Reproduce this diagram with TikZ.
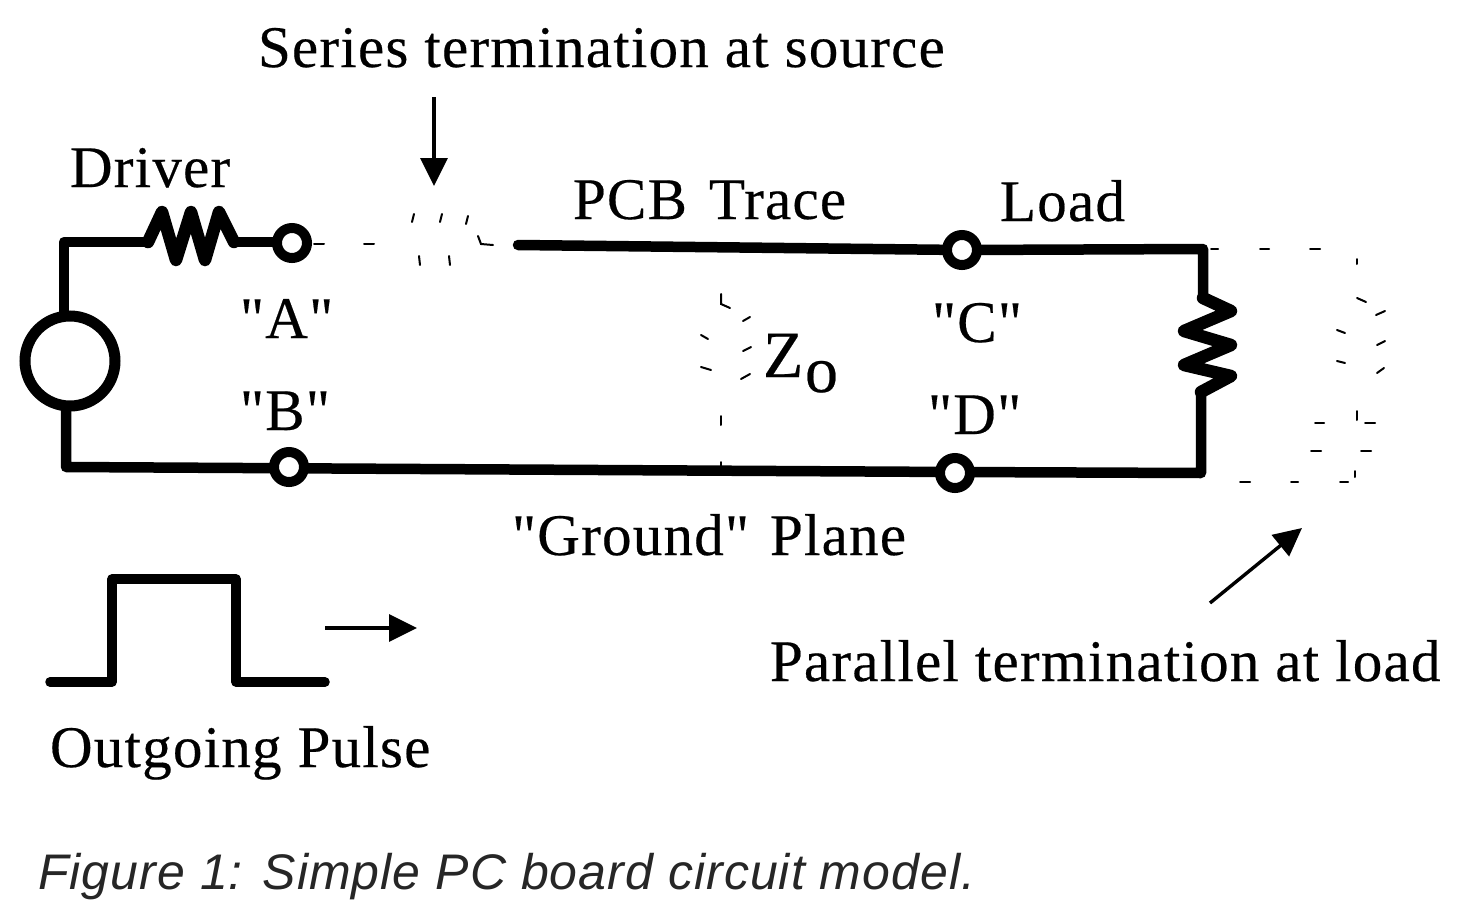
\documentclass[tikz,border=0pt]{standalone}
\usepackage{fontspec}
\newfontfamily\labfont[LetterSpace=2.1,FakeBold=0.35]{Liberation Serif}
\newfontfamily\capfont[LetterSpace=2.1]{Liberation Sans}
\usetikzlibrary{arrows.meta}
\tikzset{
  lab/.style={anchor=base west,inner sep=0pt,outer sep=0pt,font=\labfont\fontsize{59}{59}\selectfont},
  bigl/.style={lab,font=\labfont\fontsize{66}{66}\selectfont},
  wire/.style={line width=10.5pt,line join=round,line cap=round},
  res/.style={line width=12.5pt,line join=round,line cap=round},
  term/.style={circle,draw,line width=10pt,fill=white,minimum size=30pt,inner sep=0pt},
  src/.style={circle,draw,line width=11pt,fill=white,minimum size=90pt,inner sep=0pt},
  ptr/.style={line width=3.4pt,-{Triangle[length=28pt,width=27pt]}},
  frag/.style={line width=2pt,line cap=round}
}
\begin{document}
\begin{tikzpicture}[x=1pt,y=-1pt]
\useasboundingbox (0,0) rectangle (1468,924);
\fill[white] (0,0) rectangle (1468,924);
% text
\node[lab] (t1) at (258,67) {Series termination at source};
\node[lab] (t2) at (70,187) {Driver};
\node[lab] (t3) at (573,219) {PCB\hspace{6pt} Trace};
\node[lab] (t4) at (1000,221) {Load};
\node[lab] (la) at (240,338) {"A"};
\node[lab] (lb) at (240,430) {"B"};
\node[lab] (lc) at (932,342) {"C"};
\node[lab] (ld) at (928,434) {"D"};
\node[bigl] (z) at (763,377) {Z};
\node[bigl] (z0) at (805,392) {o};
\node[lab] (t5) at (512,555) {"Ground"\hspace{5pt} Plane};
\node[lab] (t6) at (770,681) {Parallel termination at load};
\node[lab] (t7) at (50,767) {Outgoing Pulse};
\node[anchor=base west,inner sep=0pt,font=\capfont\itshape\fontsize{50}{50}\selectfont,text=black!85] (t8) at (38,889) {Figure 1: Simple PC board circuit model.};
% named points
\coordinate (c1) at (64,242);
\coordinate (c2) at (66,467);
\coordinate (r1) at (148,242);
\coordinate (r2) at (234,242);
\coordinate (tstart) at (518,245);
\coordinate (c3) at (1203,249);
\coordinate (c4) at (1201,473);
\coordinate (r3) at (1203,298);
\coordinate (r4) at (1201,392);
% main wires
\draw[wire] (64,316) -- (c1) -- (r1);
\draw[res] (r1) -- (162,212) -- (176,260) -- (191,212) -- (205,260) -- (219,212) -- (r2);
\draw[wire] (r2) -- (292,242);
\draw[wire] (66,405) -- (c2) -- (955,472);
\draw[wire] (tstart) -- (962,250) -- (c3) -- (r3);
\draw[res] (r3) -- (1231,311) -- (1184,331) -- (1231,345) -- (1184,365) -- (1231,376) -- (r4);
\draw[wire] (r4) -- (c4) -- (955,472);
% source and terminals
\node[src] (source) at (70,361) {};
\node[term] (A) at (292,243) {};
\node[term] (B) at (289,467) {};
\node[term] (C) at (962,250) {};
\node[term] (D) at (955,473) {};
% pulse
\coordinate (p0) at (50,682);
\coordinate (p1) at (112,682);
\coordinate (p2) at (112,579);
\coordinate (p3) at (236,579);
\coordinate (p4) at (236,682);
\coordinate (p5) at (325,682);
\draw[wire,line width=9.5pt] (p0) -- (p1) -- (p2) -- (p3) -- (p4) -- (p5);
% arrows
\coordinate (a1s) at (325,628); \coordinate (a1e) at (417,628);
\coordinate (a2s) at (434,97);  \coordinate (a2e) at (434,186);
\coordinate (a3s) at (1210,603);\coordinate (a3e) at (1302,528);
\draw[ptr] (a1s) -- (a1e);
\draw[ptr] (a2s) -- (a2e);
\draw[ptr] (a3s) -- (a3e);
% dropout fragments
\foreach \a/\b/\c/\d in {
 314/244/324/244, 364/244/374/244, 412/222/414/214, 440/222/442/214, 466/224/468/216,
 419/256/420/265, 449/256/450/265,
 1211/249/1218/249, 1260/249/1269/249, 1310/249/1320/249, 1357/259/1357/264,
 1357/298/1366/302, 1376/315/1385/311, 1337/330/1345/333, 1377/345/1385/341,
 1337/361/1345/363, 1377/373/1384/368, 1357/411/1357/420, 1315/423/1324/423,
 1365/423/1375/423, 1311/451/1321/451, 1361/451/1371/451, 1240/482/1250/482,
 1291/482/1298/482, 1340/482/1348/482, 1355/471/1355/477,
 743/321/750/317, 701/335/708/339, 743/351/751/347, 701/367/711/370,
 741/379/750/374, 721/416/721/425, 721/462/721/471}
  {\draw[frag] (\a,\b) -- (\c,\d);}
\draw[frag] (721,294) -- (721,304) -- (730,308);
\draw[frag] (478,236) -- (481,244) -- (493,245);
\end{tikzpicture}
\end{document}
